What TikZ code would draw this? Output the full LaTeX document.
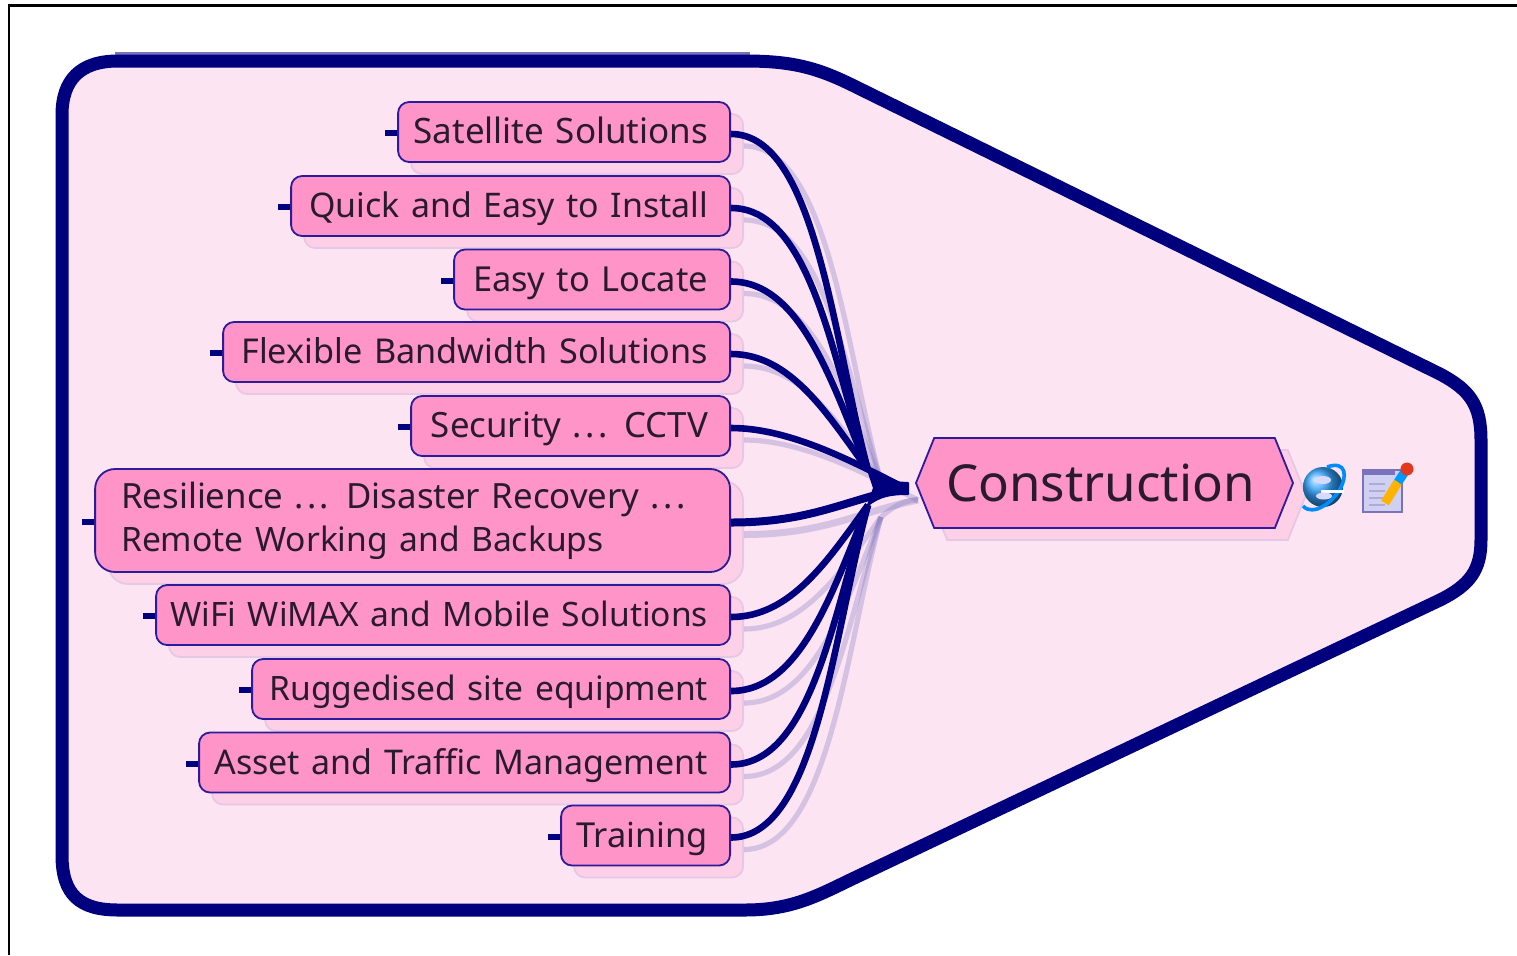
\documentclass[tikz,border=0pt]{standalone}
\usepackage{fontspec}
\setmainfont{Noto Sans}
\usetikzlibrary{shadows,shapes.symbols,calc}
\definecolor{navy}{HTML}{00007F}
\definecolor{halo}{HTML}{7B72BC}
\definecolor{areafill}{HTML}{FDE4F3}
\definecolor{boxfill}{HTML}{FF94C8}
\definecolor{boxline}{HTML}{2C1C9C}
\definecolor{shfill}{HTML}{FDD0E8}
\definecolor{shline}{HTML}{E6C8E4}
\definecolor{ink}{HTML}{2A1A30}
\newcommand{\threedots}{.\kern1.6pt.\kern1.6pt.}
\newcommand{\rtext}[2][17.2]{\hfill\vphantom{Qg}\llap{\smash{\lower1.8pt\hbox{\fontsize{#1}{21.5}\selectfont #2}}}}
\tikzset{
  boxshadow/.style={general shadow={shadow xshift=6.5pt,shadow yshift=-6pt,fill=shfill,draw=shline}},
  topic/.style={draw=boxline,line width=0.9pt,fill=boxfill,text=ink,anchor=east,rounded corners=5.5pt,
    inner xsep=11pt,inner ysep=0pt,minimum height=#1,font=\fontsize{17.2}{21.5}\selectfont,boxshadow},
  topic/.default=30pt,
  stub/.style={navy,line width=3pt},
  link/.style={navy,line width=3.3pt},
  linkshadow/.style={halo,opacity=.3,line width=2.6pt},
}
\begin{document}
\begin{tikzpicture}[x=0.5pt,y=-0.5pt]
\useasboundingbox (0,0) rectangle (1517,955);
\fill[white] (0,0) rectangle (1517,955);
\draw[black,line width=1.3pt] (9,955) -- (9,5.5) -- (1517,5.5);
% region
\draw[halo,line width=3pt] (115,54.5) -- (750,54.5);
\draw[navy,fill=areafill,line width=6.5pt,line join=round]
  (118,61) -- (745,61) .. controls (790,61) and (815,67) .. (850,84)
  -- (1440,374) .. controls (1470,390) and (1481,405) .. (1481,440)
  -- (1481,540) .. controls (1481,570) and (1470,585) .. (1440,600)
  -- (850,880) .. controls (815,897) and (790,910) .. (745,910)
  -- (118,910) .. controls (80,910) and (62,895) .. (62,855)
  -- (62,115) .. controls (62,80) and (80,61) .. (118,61) -- cycle;
% topics
\node[topic,text width=144pt] (t1) at (731,132) {\rtext[17.5]{Satellite Solutions}};
\node[topic,text width=197.5pt] (t2) at (731,206) {\rtext[16.95]{Quick and Easy to Install}};
\node[topic,text width=116pt] (t3) at (731,279.5) {\rtext{Easy to Locate}};
\node[topic,text width=231.5pt] (t4) at (731,352) {\rtext[17.1]{Flexible Bandwidth Solutions}};
\node[topic,text width=137.5pt] (t5) at (731,426) {\rtext[17.4]{Security \threedots{} CCTV}};
\node[topic=51.5pt,text width=291.5pt,inner xsep=13pt,align=left,rounded corners=10pt] (t6) at (731,520.5) {\fontsize{17.4}{21.5}\selectfont Resilience \threedots{} Disaster Recovery \threedots\\\fontsize{16.8}{21.5}\selectfont Remote Working and Backups};
\node[topic,text width=265pt] (t7) at (731,615) {\rtext[16.8]{WiFi WiMAX and Mobile Solutions}};
\node[topic,text width=217pt] (t8) at (731,689) {\rtext[16.8]{Ruggedised site equipment}};
\node[topic,text width=243.5pt] (t9) at (731,762.5) {\rtext[17]{Asset and Traffic Management}};
\node[topic,text width=62.5pt] (t10) at (731,835.5) {\rtext{Training}};
% central
\node[signal,signal to=west and east,signal pointer angle=136,draw=boxline,line width=0.9pt,fill=boxfill,text=ink,
  inner xsep=0pt,inner ysep=0pt,minimum width=188.5pt,minimum height=45pt,boxshadow,
  font=\fontsize{25.5}{30}\selectfont] (hex) at (1104.5,483) {\kern-2pt Construction\kern2pt};
\coordinate (hub) at (905,488);
\coordinate (hubs) at (917,501);
\coordinate (wu) at (868,470);
\coordinate (wd) at (868,505);
% connector shadows
\begin{scope}[transform canvas={xshift=6.5pt,yshift=-6pt}]
\foreach \n/\a/\b/\c/\w in {t1/85/-35/-130/wu,t2/80/-35/-110/wu,t3/70/-35/-85/wu,t4/60/-40/-55/wu,t7/60/-40/55/wd,t8/70/-35/85/wd,t9/80/-35/110/wd,t10/85/-35/130/wd}
  \draw[linkshadow] ([yshift=-1pt]\n.east) .. controls +(\a,0) and +(\b,\c) .. (\w);
\draw[linkshadow] ([yshift=-1pt]t5.east) .. controls +(60,0) and +(-50,-25) .. (hub);
\draw[linkshadow,line width=3.5pt] ([yshift=-1pt]t6.east) .. controls +(80,0) and +(-60,12) .. (hub);
\draw[linkshadow] (wd) .. controls +(12,-10) and +(-15,0) .. (hub);
\end{scope}
% connectors
\foreach \n/\a/\b/\c/\w in {t1/85/-35/-130/wu,t2/80/-35/-110/wu,t3/70/-35/-85/wu,t4/60/-40/-55/wu,t7/60/-40/55/wd,t8/70/-35/85/wd,t9/80/-35/110/wd,t10/85/-35/130/wd}{
  \draw[link] ([yshift=-1pt]\n.east) .. controls +(\a,0) and +(\b,\c) .. (\w);
  \draw[stub] ([yshift=-0.5pt]\n.west) -- ++(-12,0);
}
\draw[link] ([yshift=-1pt]t5.east) .. controls +(60,0) and +(-50,-25) .. (hub);
\draw[stub] ([yshift=-0.5pt]t5.west) -- ++(-12,0);
\draw[link,line width=4pt] ([yshift=-1pt]t6.east) .. controls +(80,0) and +(-60,12) .. (hub);
\draw[stub] ([yshift=-0.5pt]t6.west) -- ++(-12,0);
\filldraw[navy,line width=1pt,line join=round] (wu) .. controls (880,482) and (890,482) .. (908,483) -- (908,494) .. controls (890,494) and (880,496) .. (wd) -- (874,488) -- cycle;
% browser icon
\begin{scope}[shift={(1323,487)}]
\shade[ball color=blue!45!cyan!80!white] (0,0) circle (20);
\draw[blue!45!cyan,line width=1.8pt] (-20,19) .. controls (-10,30) and (10,15) .. (17,2) .. controls (24,-10) and (24,-27) .. (4,-20);
\fill[white] (-2,3) rectangle (21,5.5);
\fill[white!85!blue] (0,-7) ellipse (8 and 4);
\fill[white!85!blue] (1,9) ellipse (8 and 3.5);
\end{scope}
% note icon
\fill[blue!15!white!90!gray] (1363,470) rectangle (1402,512);
\draw[halo,line width=1pt] (1363,470) rectangle (1402,512);
\fill[halo] (1363,470) rectangle (1395,475);
\foreach \y in {484,491,498,505} \draw[halo!60,line width=.8pt] (1369,\y) -- (1385,\y);
\draw[orange!60!yellow,line width=4.5pt] (1385,503) -- (1398,482);
\draw[blue!40!cyan,line width=4.5pt] (1398,482) -- (1404,473);
\fill[red!55!brown] (1407,469) circle (6.5);
\end{tikzpicture}
\end{document}
